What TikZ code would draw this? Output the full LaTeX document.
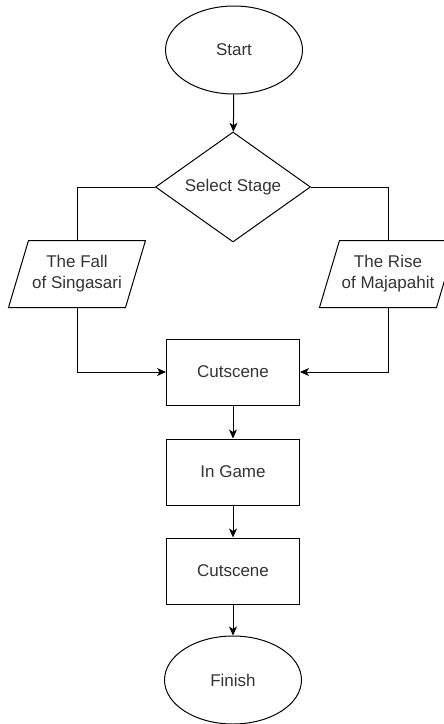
\documentclass[tikz,border=0pt]{standalone}
\usepackage{fontspec}
\setmainfont{Liberation Sans}
\usetikzlibrary{arrows.meta,shapes.geometric}

\begin{document}
\begin{tikzpicture}[x=1pt,y=-1pt,line width=1pt,
  block/.style={draw,inner sep=0pt,align=center,text=black!80,
    font=\fontsize{17}{21}\selectfont},
  terminal/.style={block,ellipse,minimum width=137pt,minimum height=88pt},
  decision/.style={block,diamond,aspect=1.4,minimum width=155pt,minimum height=110pt},
  stage/.style={block,draw=none,rectangle,minimum width=116pt,minimum height=66pt},
  process/.style={block,rectangle,minimum width=133pt,minimum height=66pt},
  flow/.style={-{Stealth[length=9pt,width=8pt,inset=2.5pt]}}]
\clip (0,0) rectangle (444,724);
\node[terminal] (start) at (234,50) {Start};
\node[decision] (select) at (233,187) {Select Stage};
\node[stage] (fall) at (77,274) {The Fall\\of Singasari};
\node[stage] (rise) at (388,274) {The Rise\\of Majapahit};
\node[process] (cut1) at (233,372) {Cutscene};
\node[process] (game) at (233,472) {In Game};
\node[process] (cut2) at (233,571) {Cutscene};
\node[terminal] (finish) at (233,680) {Finish};
% stage outlines
\foreach \n in {fall,rise}
  \draw ([xshift=-10pt]\n.south west) -- ([xshift=10pt]\n.north west)
    -- ([xshift=10pt]\n.north east) -- ([xshift=-10pt]\n.south east) -- cycle;
% connectors
\draw[flow] (start) -- (select);
\draw (select.west) -| (fall.north);
\draw (select.east) -| (rise.north);
\draw[flow] (fall.south) |- (cut1.west);
\draw[flow] (rise.south) |- (cut1.east);
\draw[flow] (cut1) -- (game);
\draw[flow] (game) -- (cut2);
\draw[flow] (cut2) -- (finish);
\end{tikzpicture}
\end{document}
